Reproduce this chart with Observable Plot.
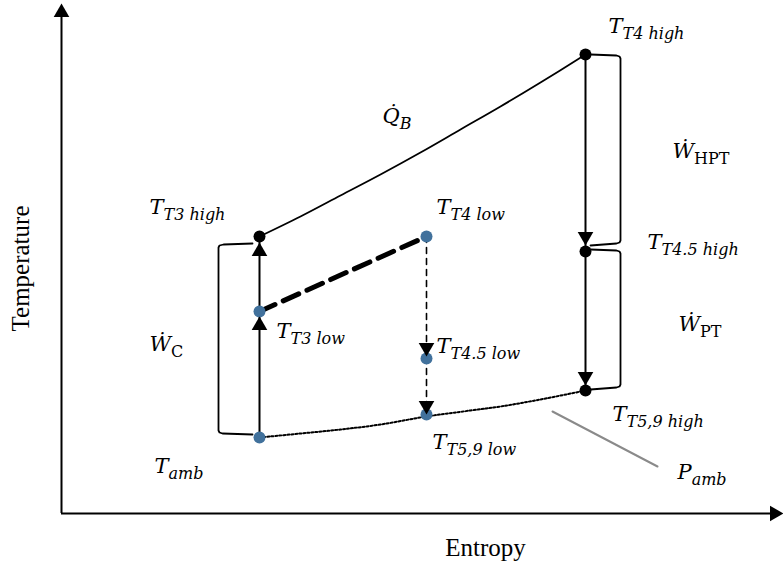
<!DOCTYPE html>
<html>
<head>
<meta charset="utf-8">
<script src="https://cdn.jsdelivr.net/npm/d3@7"></script>
<script src="https://cdn.jsdelivr.net/npm/@observablehq/plot@0.6"></script>
<style>
  html, body { margin: 0; padding: 0; background: #fff; }
  svg { display: block; }
</style>
</head>
<body>
<div id="chart"></div>
<script>
// ---- Data (schematic units: entropy s, temperature T) ----
const axisS = [0, 722];
const axisT = [0, 510];

// cycle state points
const pointNames = ["Tamb", "T3low", "T3high", "T4low", "T4high", "T45high", "T59high", "T45low", "T59low"];
const pointS     = [198, 198, 198, 365, 524, 524, 524, 365, 365];
const pointT     = [76, 202, 277, 277, 459, 262, 123, 155, 99];
const pointKind  = ["low", "low", "high", "low", "high", "high", "high", "low", "low"];

// heat addition curve (T3 high -> T4 high)
const heatS = [198, 239, 279, 319, 359, 399, 439, 479, 524];
const heatT = [277, 297, 318, 339, 361, 384, 407, 431, 459];

// ambient pressure isobar (dotted)
const ambS = [198, 239, 279, 319, 365, 409, 439, 479, 524];
const ambT = [76, 80, 84, 89, 97, 103, 107, 114, 123];

// brackets
const bracketC_S   = [191, 162, 158, 157, 157, 158, 161, 191];
const bracketC_T   = [270, 269, 268, 266, 83, 81, 80, 79];
const bracketHPT_S = [529, 555, 558, 559, 559, 558, 555, 529];
const bracketHPT_T = [459, 458, 457, 455, 273, 271, 270, 268];
const bracketPT_S  = [529, 555, 558, 559, 559, 558, 555, 529];
const bracketPT_T  = [264, 263, 262, 260, 129, 127, 126, 124];

// P_amb leader line
const leaderS = [491, 596];
const leaderT = [102, 47];

// labels
const labelMain = ["T", "Q\u0307", "T", "\u1E86", "T", "T", "\u1E86", "T", "T", "\u1E86", "T", "T", "T", "P"];
const labelSub  = ["T3 high", "B", "T4 high", "HPT", "T4 low", "T4.5 high", "C", "T3 low", "amb", "PT", "T4.5 low", "T5,9 high", "T5,9 low", "amb"];
const labelS    = [88, 321, 547, 611, 375, 586, 88, 215, 93, 617, 375, 551, 371, 616];
const labelT    = [300, 391, 481, 356, 300, 265, 163, 176, 41, 183, 161, 93, 65, 35];
const uprightSubs = ["HPT", "PT", "C"];

// arrows along the process lines
const arrowAt  = ["T3low", "T3high", "T45high", "T59high", "T45low", "T59low"];
const arrowDir = ["up", "up", "down", "down", "down", "down"];

const xTitle = "Entropy";
const yTitle = "Temperature";

// ---- Build tables ----
const points = pointNames.map((n, i) => ({name: n, s: pointS[i], T: pointT[i], kind: pointKind[i]}));
const P = Object.fromEntries(points.map(p => [p.name, p]));
const toRows = (S, T) => S.map((s, i) => ({s, T: T[i]}));
const heat = toRows(heatS, heatT);
const amb = toRows(ambS, ambT);
const brackets = [toRows(bracketC_S, bracketC_T), toRows(bracketHPT_S, bracketHPT_T), toRows(bracketPT_S, bracketPT_T)];
const leader = toRows(leaderS, leaderT);
const labels = labelMain.map((m, i) => ({key: m + "\u2063" + labelSub[i], main: m, sub: labelSub[i], s: labelS[i], T: labelT[i]}));
const arrowGap = [5, 6, 6, 5, 2, 0]; // px gap between arrow tip and point centre (style)

const triR = 5.8, triOff = 9;
const arrowMarks = arrowAt.map((name, i) => Plot.dot([P[name]], {
  x: "s", y: "T", symbol: "triangle", r: triR, fill: "black", stroke: "none",
  rotate: arrowDir[i] === "up" ? 0 : 180,
  dy: arrowDir[i] === "up" ? (arrowGap[i] + triOff) : -(arrowGap[i] + triOff)
}));

const chart = Plot.plot({
  width: 783, height: 562,
  marginLeft: 61, marginRight: 0, marginTop: 3, marginBottom: 49,
  x: {domain: axisS, axis: null},
  y: {domain: axisT, axis: null},
  style: {background: "white", overflow: "visible"},
  marks: [
    // axes
    Plot.ruleX([axisS[0]], {y1: axisT[0], y2: axisT[1] - 12, stroke: "black", strokeWidth: 2}),
    Plot.ruleY([axisT[0]], {x1: axisS[0], x2: axisS[1] - 6, stroke: "black", strokeWidth: 2}),
    Plot.dot([{s: axisS[0], T: axisT[1]}], {x: "s", y: "T", symbol: "triangle", r: 5.8, fill: "black", stroke: "none", dy: 9}),
    Plot.dot([{s: axisS[1], T: axisT[0]}], {x: "s", y: "T", symbol: "triangle", r: 5.8, fill: "black", stroke: "none", rotate: 90, dx: -9}),
    // brackets
    ...brackets.map(b => Plot.line(b, {x: "s", y: "T", stroke: "black", strokeWidth: 1.8})),
    // P_amb leader
    Plot.line(leader, {x: "s", y: "T", stroke: "#8a8a8a", strokeWidth: 2}),
    // isobar at ambient pressure
    Plot.line(amb, {x: "s", y: "T", stroke: "black", strokeWidth: 2, strokeDasharray: "2,2", curve: "catmull-rom"}),
    // heat addition
    Plot.line(heat, {x: "s", y: "T", stroke: "black", strokeWidth: 1.8, curve: "catmull-rom"}),
    // compression (solid vertical)
    Plot.line([P.Tamb, P.T3high], {x: "s", y: "T", stroke: "black", strokeWidth: 2}),
    // expansion high (solid vertical)
    Plot.line([P.T4high, P.T59high], {x: "s", y: "T", stroke: "black", strokeWidth: 2}),
    // low: combustion (thick dashed)
    Plot.line([P.T3low, P.T4low], {x: "s", y: "T", stroke: "black", strokeWidth: 5, strokeDasharray: "17,9"}),
    // low: expansion (thin dashed)
    Plot.line([P.T4low, P.T59low], {x: "s", y: "T", stroke: "black", strokeWidth: 1.6, strokeDasharray: "6,5"}),
    // state points
    Plot.dot(points, {x: "s", y: "T", r: 6, fill: d => d.kind === "low" ? "#41719C" : "black", stroke: "none"}),
    // arrowheads
    ...arrowMarks,
    // labels
    Plot.text(labels, {x: "s", y: "T", text: "key", textAnchor: "start", lineAnchor: "bottom",
      fontFamily: "DejaVu Serif", fontStyle: "italic", fontSize: 21, fill: "black"}),
    // axis titles
    Plot.text([{s: 424, T: -42}], {x: "s", y: "T", text: () => xTitle, textAnchor: "middle", lineAnchor: "bottom",
      fontFamily: "Liberation Serif", fontSize: 25, fill: "black"}),
    Plot.text([{s: -33, T: 245}], {x: "s", y: "T", text: () => yTitle, textAnchor: "middle", lineAnchor: "bottom",
      rotate: -90, fontFamily: "Liberation Serif", fontSize: 25, fill: "black"})
  ]
});

// turn "main<sep>sub" labels into main + subscript tspans
const byKey = new Map(labels.map(d => [d.key, d]));
d3.select(chart).selectAll("text").each(function () {
  const d = byKey.get(this.textContent);
  if (!d) return;
  const t = d3.select(this);
  this.textContent = "";
  t.append("tspan").text(d.main);
  t.append("tspan")
    .attr("font-size", 16)
    .attr("dy", 6)
    .attr("font-style", uprightSubs.includes(d.sub) ? "normal" : "italic")
    .text(d.sub);
});

document.getElementById("chart").appendChild(chart);
</script>
</body>
</html>
